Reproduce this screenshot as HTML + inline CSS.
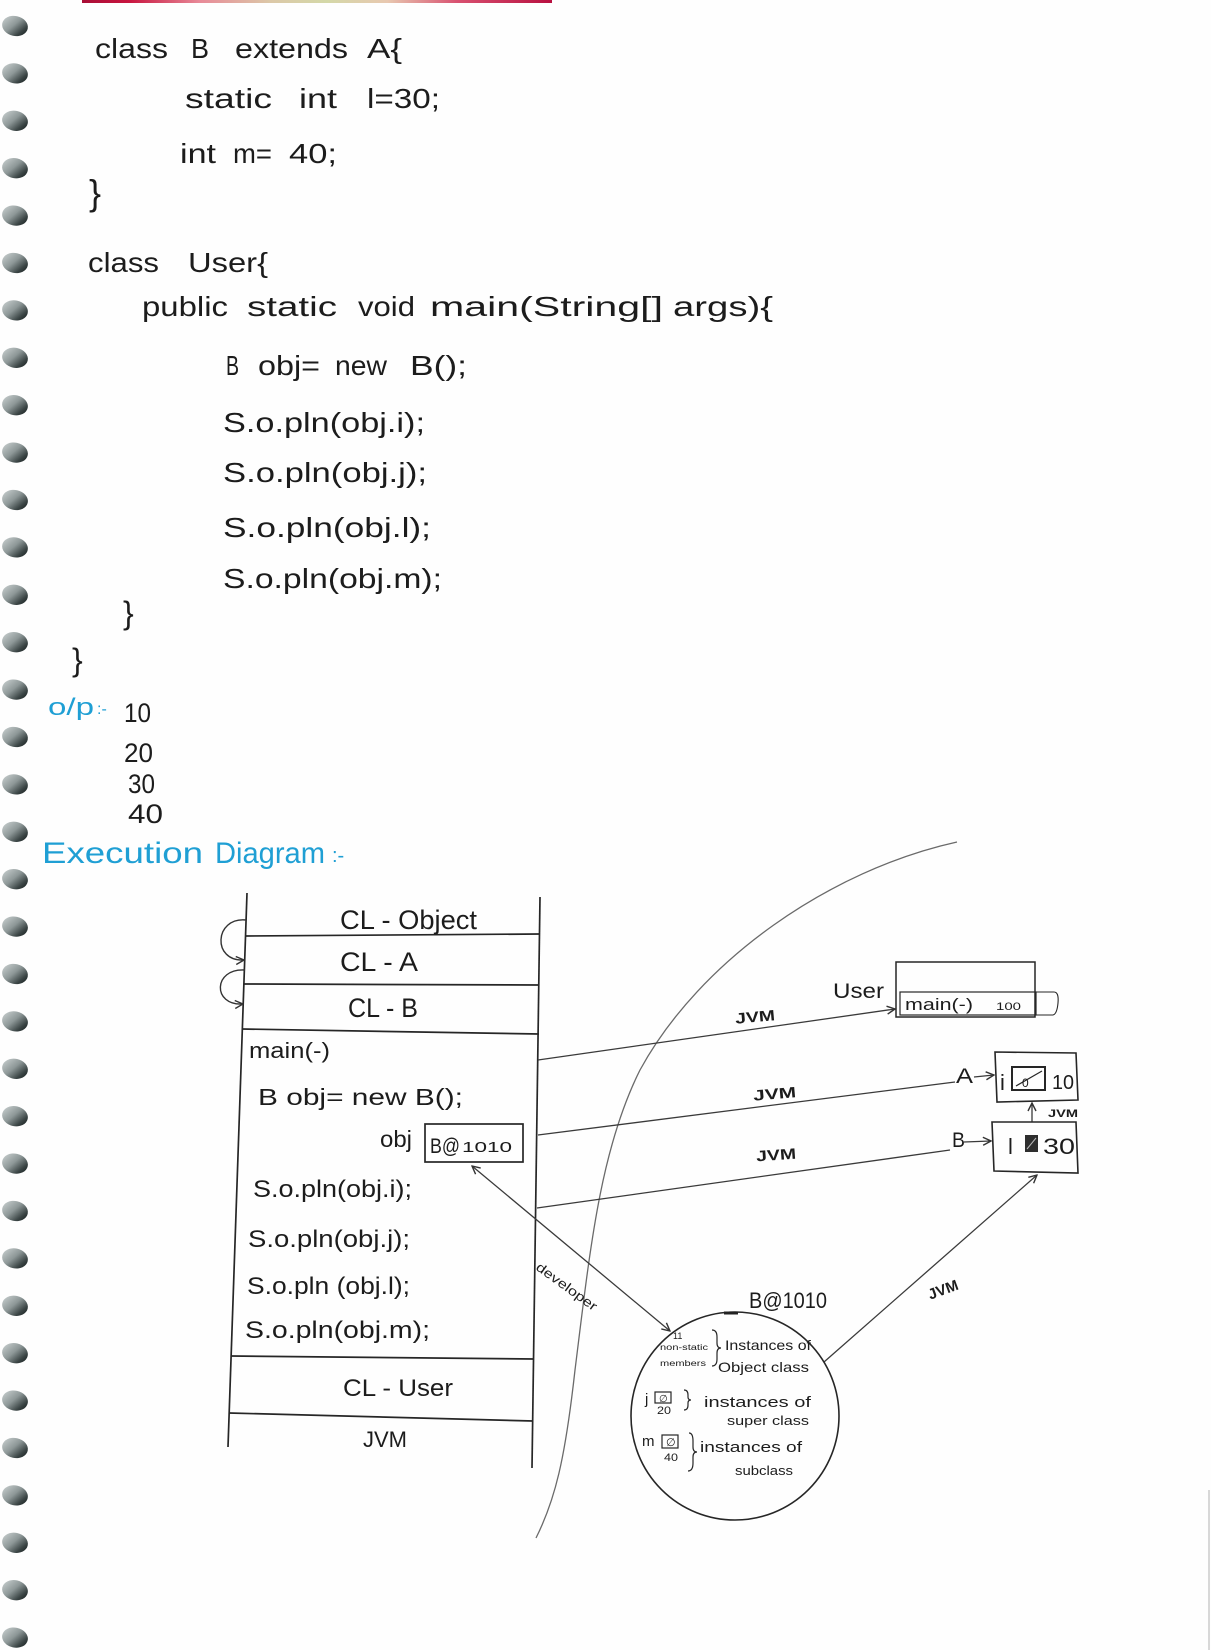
<!DOCTYPE html>
<html>
<head>
<meta charset="utf-8">
<style>
html,body{margin:0;padding:0;background:#fefefe;}
svg{display:block;}
text{font-family:"Liberation Sans",sans-serif;fill:#1c1c1c;}
.b{fill:#1f9fd4;}
</style>
</head>
<body>
<svg width="1211" height="1650" viewBox="0 0 1211 1650" xmlns="http://www.w3.org/2000/svg">
<defs>
  <linearGradient id="strip" x1="0" x2="1" y1="0" y2="0">
    <stop offset="0" stop-color="#a80e36"/>
    <stop offset="0.1" stop-color="#c8143f"/>
    <stop offset="0.25" stop-color="#e88a98"/>
    <stop offset="0.4" stop-color="#dcc8a8"/>
    <stop offset="0.52" stop-color="#d4d8a8"/>
    <stop offset="0.65" stop-color="#e8c8b0"/>
    <stop offset="0.8" stop-color="#d85070"/>
    <stop offset="1" stop-color="#b81040"/>
  </linearGradient>
  <linearGradient id="ring" x1="0" x2="1" y1="0.2" y2="0.8">
    <stop offset="0" stop-color="#c4cbcb"/>
    <stop offset="0.45" stop-color="#8d9797"/>
    <stop offset="0.8" stop-color="#3a4444"/>
    <stop offset="1" stop-color="#1e2626"/>
  </linearGradient>
  <marker id="ah" viewBox="0 0 10 10" refX="9" refY="5" markerWidth="10" markerHeight="10" markerUnits="userSpaceOnUse" orient="auto-start-reverse">
    <path d="M1,1 L9,5 L1,9" fill="none" stroke="#333" stroke-width="1.4"/>
  </marker>
</defs>

<!-- top strip -->
<rect x="82" y="0" width="470" height="3" fill="url(#strip)"/>

<!-- spiral rings -->
<g id="rings">
  <ellipse cx="15" cy="26" rx="13" ry="10" fill="url(#ring)" transform="rotate(12 15 26)"/>
  <ellipse cx="15" cy="73.4" rx="13" ry="10" fill="url(#ring)" transform="rotate(12 15 73.4)"/>
  <ellipse cx="15" cy="120.8" rx="13" ry="10" fill="url(#ring)" transform="rotate(12 15 120.8)"/>
  <ellipse cx="15" cy="168.2" rx="13" ry="10" fill="url(#ring)" transform="rotate(12 15 168.2)"/>
  <ellipse cx="15" cy="215.6" rx="13" ry="10" fill="url(#ring)" transform="rotate(12 15 215.6)"/>
  <ellipse cx="15" cy="263" rx="13" ry="10" fill="url(#ring)" transform="rotate(12 15 263)"/>
  <ellipse cx="15" cy="310.4" rx="13" ry="10" fill="url(#ring)" transform="rotate(12 15 310.4)"/>
  <ellipse cx="15" cy="357.8" rx="13" ry="10" fill="url(#ring)" transform="rotate(12 15 357.8)"/>
  <ellipse cx="15" cy="405.2" rx="13" ry="10" fill="url(#ring)" transform="rotate(12 15 405.2)"/>
  <ellipse cx="15" cy="452.6" rx="13" ry="10" fill="url(#ring)" transform="rotate(12 15 452.6)"/>
  <ellipse cx="15" cy="500" rx="13" ry="10" fill="url(#ring)" transform="rotate(12 15 500)"/>
  <ellipse cx="15" cy="547.4" rx="13" ry="10" fill="url(#ring)" transform="rotate(12 15 547.4)"/>
  <ellipse cx="15" cy="594.8" rx="13" ry="10" fill="url(#ring)" transform="rotate(12 15 594.8)"/>
  <ellipse cx="15" cy="642.2" rx="13" ry="10" fill="url(#ring)" transform="rotate(12 15 642.2)"/>
  <ellipse cx="15" cy="689.6" rx="13" ry="10" fill="url(#ring)" transform="rotate(12 15 689.6)"/>
  <ellipse cx="15" cy="737" rx="13" ry="10" fill="url(#ring)" transform="rotate(12 15 737)"/>
  <ellipse cx="15" cy="784.4" rx="13" ry="10" fill="url(#ring)" transform="rotate(12 15 784.4)"/>
  <ellipse cx="15" cy="831.8" rx="13" ry="10" fill="url(#ring)" transform="rotate(12 15 831.8)"/>
  <ellipse cx="15" cy="879.2" rx="13" ry="10" fill="url(#ring)" transform="rotate(12 15 879.2)"/>
  <ellipse cx="15" cy="926.6" rx="13" ry="10" fill="url(#ring)" transform="rotate(12 15 926.6)"/>
  <ellipse cx="15" cy="974" rx="13" ry="10" fill="url(#ring)" transform="rotate(12 15 974)"/>
  <ellipse cx="15" cy="1021.4" rx="13" ry="10" fill="url(#ring)" transform="rotate(12 15 1021.4)"/>
  <ellipse cx="15" cy="1068.8" rx="13" ry="10" fill="url(#ring)" transform="rotate(12 15 1068.8)"/>
  <ellipse cx="15" cy="1116.2" rx="13" ry="10" fill="url(#ring)" transform="rotate(12 15 1116.2)"/>
  <ellipse cx="15" cy="1163.6" rx="13" ry="10" fill="url(#ring)" transform="rotate(12 15 1163.6)"/>
  <ellipse cx="15" cy="1211" rx="13" ry="10" fill="url(#ring)" transform="rotate(12 15 1211)"/>
  <ellipse cx="15" cy="1258.4" rx="13" ry="10" fill="url(#ring)" transform="rotate(12 15 1258.4)"/>
  <ellipse cx="15" cy="1305.8" rx="13" ry="10" fill="url(#ring)" transform="rotate(12 15 1305.8)"/>
  <ellipse cx="15" cy="1353.2" rx="13" ry="10" fill="url(#ring)" transform="rotate(12 15 1353.2)"/>
  <ellipse cx="15" cy="1400.6" rx="13" ry="10" fill="url(#ring)" transform="rotate(12 15 1400.6)"/>
  <ellipse cx="15" cy="1448" rx="13" ry="10" fill="url(#ring)" transform="rotate(12 15 1448)"/>
  <ellipse cx="15" cy="1495.4" rx="13" ry="10" fill="url(#ring)" transform="rotate(12 15 1495.4)"/>
  <ellipse cx="15" cy="1542.8" rx="13" ry="10" fill="url(#ring)" transform="rotate(12 15 1542.8)"/>
  <ellipse cx="15" cy="1590.2" rx="13" ry="10" fill="url(#ring)" transform="rotate(12 15 1590.2)"/>
  <ellipse cx="15" cy="1637.6" rx="13" ry="10" fill="url(#ring)" transform="rotate(12 15 1637.6)"/>
</g>

<!-- right page edge shade -->
<line x1="1209" y1="1490" x2="1209" y2="1650" stroke="#d8d8d8" stroke-width="2"/>

<!-- ===== CODE ===== -->
<g font-size="28">
  <text x="95" y="58" textLength="73" lengthAdjust="spacingAndGlyphs">class</text>
  <text x="191" y="58" textLength="18" lengthAdjust="spacingAndGlyphs">B</text>
  <text x="235" y="58" textLength="113" lengthAdjust="spacingAndGlyphs">extends</text>
  <text x="367" y="58" textLength="35" lengthAdjust="spacingAndGlyphs">A{</text>

  <text x="185" y="108" textLength="87" lengthAdjust="spacingAndGlyphs">static</text>
  <text x="299" y="108" textLength="38" lengthAdjust="spacingAndGlyphs">int</text>
  <text x="367" y="108" textLength="73" lengthAdjust="spacingAndGlyphs">l=30;</text>

  <text x="180" y="163" textLength="36" lengthAdjust="spacingAndGlyphs">int</text>
  <text x="233" y="163" textLength="39" lengthAdjust="spacingAndGlyphs">m=</text>
  <text x="289" y="163" textLength="48" lengthAdjust="spacingAndGlyphs">40;</text>

  <text x="89" y="205" font-size="36">}</text>

  <text x="88" y="272" textLength="71" lengthAdjust="spacingAndGlyphs">class</text>
  <text x="188" y="272" textLength="80" lengthAdjust="spacingAndGlyphs">User{</text>

  <text x="142" y="316" textLength="86" lengthAdjust="spacingAndGlyphs">public</text>
  <text x="247" y="316" textLength="90" lengthAdjust="spacingAndGlyphs">static</text>
  <text x="358" y="316" textLength="57" lengthAdjust="spacingAndGlyphs">void</text>
  <text x="430" y="316" textLength="233" lengthAdjust="spacingAndGlyphs">main(String[]</text>
  <text x="673" y="316" textLength="100" lengthAdjust="spacingAndGlyphs">args){</text>

  <text x="226" y="375" textLength="13" lengthAdjust="spacingAndGlyphs">B</text>
  <text x="258" y="375" textLength="62" lengthAdjust="spacingAndGlyphs">obj=</text>
  <text x="335" y="375" textLength="52" lengthAdjust="spacingAndGlyphs">new</text>
  <text x="410" y="375" textLength="57" lengthAdjust="spacingAndGlyphs">B();</text>

  <text x="223" y="432" textLength="202" lengthAdjust="spacingAndGlyphs">S.o.pln(obj.i);</text>
  <text x="223" y="482" textLength="204" lengthAdjust="spacingAndGlyphs">S.o.pln(obj.j);</text>
  <text x="223" y="537" textLength="208" lengthAdjust="spacingAndGlyphs">S.o.pln(obj.l);</text>
  <text x="223" y="588" textLength="219" lengthAdjust="spacingAndGlyphs">S.o.pln(obj.m);</text>

  <text x="123" y="624" font-size="32">}</text>
  <text x="72" y="671" font-size="32">}</text>
</g>

<!-- output -->
<text class="b" x="48" y="715" font-size="24" textLength="46" lengthAdjust="spacingAndGlyphs">o/p</text>
<text class="b" x="97" y="714" font-size="16">:-</text>
<g font-size="27">
  <text x="124" y="722" textLength="27" lengthAdjust="spacingAndGlyphs">10</text>
  <text x="124" y="762" textLength="29" lengthAdjust="spacingAndGlyphs">20</text>
  <text x="128" y="793" textLength="27" lengthAdjust="spacingAndGlyphs">30</text>
  <text x="128" y="823" textLength="35" lengthAdjust="spacingAndGlyphs">40</text>
</g>
<text class="b" x="42" y="863" font-size="30" textLength="161" lengthAdjust="spacingAndGlyphs">Execution</text>
<text class="b" x="215" y="863" font-size="30" textLength="110" lengthAdjust="spacingAndGlyphs">Diagram</text>
<text class="b" x="332" y="862" font-size="20">:-</text>

<!-- ===== DIAGRAM ===== -->
<path d="M957,842 C830,870 700,960 640,1070 C600,1150 590,1250 575,1370 C565,1460 555,1500 536,1538" fill="none" stroke="#6a6a6a" stroke-width="1.3"/>

<g stroke="#262626" stroke-width="1.7" fill="none">
  <line x1="247" y1="893" x2="228" y2="1447"/>
  <line x1="540" y1="897" x2="532" y2="1468"/>
  <line x1="245" y1="936" x2="540" y2="934"/>
  <line x1="244" y1="984" x2="539" y2="985"/>
  <line x1="242" y1="1029" x2="539" y2="1034"/>
  <line x1="231" y1="1356" x2="534" y2="1359"/>
  <line x1="229" y1="1413" x2="533" y2="1421"/>
  <rect x="425" y="1124" width="98" height="38"/>
</g>
<path d="M246,920 C214,917 212,962 244,960" fill="none" stroke="#333" stroke-width="1.4" marker-end="url(#ah)"/>
<path d="M245,970 C213,968 212,1006 243,1004" fill="none" stroke="#333" stroke-width="1.4" marker-end="url(#ah)"/>

<g>
  <text x="340" y="929" font-size="27" textLength="137" lengthAdjust="spacingAndGlyphs">CL - Object</text>
  <text x="340" y="971" font-size="27" textLength="78" lengthAdjust="spacingAndGlyphs">CL - A</text>
  <text x="348" y="1017" font-size="27" textLength="70" lengthAdjust="spacingAndGlyphs">CL - B</text>
  <text x="249" y="1058" font-size="22" textLength="81" lengthAdjust="spacingAndGlyphs">main(-)</text>
  <text x="258" y="1105" font-size="23" textLength="205" lengthAdjust="spacingAndGlyphs">B obj= new B();</text>
  <text x="380" y="1147" font-size="23" textLength="32" lengthAdjust="spacingAndGlyphs">obj</text>
  <text x="430" y="1153" font-size="21" textLength="30" lengthAdjust="spacingAndGlyphs">B@</text>
  <text x="462" y="1152" font-size="15" textLength="50" lengthAdjust="spacingAndGlyphs">1010</text>
  <text x="253" y="1197" font-size="24" textLength="159" lengthAdjust="spacingAndGlyphs">S.o.pln(obj.i);</text>
  <text x="248" y="1247" font-size="24" textLength="162" lengthAdjust="spacingAndGlyphs">S.o.pln(obj.j);</text>
  <text x="247" y="1294" font-size="24" textLength="163" lengthAdjust="spacingAndGlyphs">S.o.pln (obj.l);</text>
  <text x="245" y="1338" font-size="24" textLength="185" lengthAdjust="spacingAndGlyphs">S.o.pln(obj.m);</text>
  <text x="343" y="1396" font-size="24" textLength="110" lengthAdjust="spacingAndGlyphs">CL - User</text>
  <text x="363" y="1447" font-size="22" textLength="44" lengthAdjust="spacingAndGlyphs">JVM</text>
</g>

<g stroke="#3a3a3a" stroke-width="1.3" fill="none">
  <line x1="538" y1="1060" x2="895" y2="1009" marker-end="url(#ah)"/>
  <line x1="538" y1="1135" x2="955" y2="1082"/>
  <line x1="974" y1="1077" x2="994" y2="1075" marker-end="url(#ah)"/>
  <line x1="537" y1="1208" x2="950" y2="1150"/>
  <line x1="964" y1="1142" x2="991" y2="1141" marker-end="url(#ah)"/>
  <line x1="472" y1="1166" x2="670" y2="1331" marker-start="url(#ah)" marker-end="url(#ah)"/>
  <line x1="824" y1="1362" x2="1037" y2="1175" marker-end="url(#ah)"/>
  <line x1="1032" y1="1122" x2="1032" y2="1103" marker-end="url(#ah)"/>
</g>

<g font-size="15" font-weight="bold">
  <text x="735" y="1022" textLength="40" lengthAdjust="spacingAndGlyphs" transform="rotate(-5 755 1016)">JVM</text>
  <text x="753" y="1099" textLength="43" lengthAdjust="spacingAndGlyphs" transform="rotate(-5 774 1093)">JVM</text>
  <text x="756" y="1160" textLength="40" lengthAdjust="spacingAndGlyphs" transform="rotate(-4 776 1154)">JVM</text>
  <text x="927" y="1295" textLength="31" lengthAdjust="spacingAndGlyphs" transform="rotate(-20 942 1288)">JVM</text>
  <text x="1048" y="1117" font-size="11" textLength="30" lengthAdjust="spacingAndGlyphs">JVM</text>
</g>
<text x="538" y="1270" font-size="13" textLength="72" lengthAdjust="spacingAndGlyphs" transform="rotate(36 538 1265)">developer</text>

<text x="833" y="998" font-size="21" textLength="51" lengthAdjust="spacingAndGlyphs">User</text>
<g stroke="#262626" stroke-width="1.5" fill="none">
  <rect x="896" y="962" width="139" height="55"/>
  <rect x="900" y="992" width="136" height="23" stroke-width="1.2"/>
  <path d="M1036,992 H1054 Q1059,992 1058,1003 Q1057,1014 1053,1015 H1036" stroke-width="1.1"/>
</g>
<text x="905" y="1010" font-size="17" textLength="68" lengthAdjust="spacingAndGlyphs">main(-)</text>
<text x="996" y="1010" font-size="11" textLength="25" lengthAdjust="spacingAndGlyphs">100</text>

<text x="956" y="1083" font-size="21" textLength="17" lengthAdjust="spacingAndGlyphs">A</text>
<g stroke="#262626" stroke-width="1.6" fill="none">
  <path d="M995,1052 L1076,1053 L1078,1100 L997,1102 Z"/>
  <rect x="1012" y="1067" width="33" height="23" stroke-width="2"/>
  <line x1="1016" y1="1086" x2="1042" y2="1071" stroke-width="1.2"/>
</g>
<text x="1022" y="1087" font-size="12">0</text>
<text x="1000" y="1090" font-size="22">i</text>
<text x="1052" y="1089" font-size="20" textLength="22" lengthAdjust="spacingAndGlyphs">10</text>

<text x="952" y="1147" font-size="21" textLength="13" lengthAdjust="spacingAndGlyphs">B</text>
<g stroke="#262626" stroke-width="1.6" fill="none">
  <path d="M992,1122 L1076,1122 L1078,1173 L994,1171 Z"/>
</g>
<rect x="1025" y="1135" width="13" height="17" fill="#2e2e2e"/>
<line x1="1027" y1="1149" x2="1036" y2="1138" stroke="#bbb" stroke-width="1"/>
<text x="1008" y="1154" font-size="22">l</text>
<text x="1043" y="1154" font-size="22" textLength="32" lengthAdjust="spacingAndGlyphs">30</text>

<text x="749" y="1308" font-size="22" textLength="78" lengthAdjust="spacingAndGlyphs">B@1010</text>
<circle cx="735" cy="1416" r="104" fill="none" stroke="#262626" stroke-width="1.6"/>
<line x1="724" y1="1313" x2="738" y2="1313" stroke="#222" stroke-width="3"/>

<g font-size="9">
  <text x="673" y="1339" font-size="9">11</text>
  <text x="660" y="1350" font-size="8" textLength="48" lengthAdjust="spacingAndGlyphs">non-static</text>
  <text x="660" y="1366" font-size="8" textLength="46" lengthAdjust="spacingAndGlyphs">members</text>
</g>
<g stroke="#262626" stroke-width="1.2" fill="none">
  <path d="M712,1330 q5,0 5,7 v6 q0,5 4,5 q-4,0 -4,5 v6 q0,7 -5,7"/>
  <path d="M684,1390 q4,0 4,5 v2 q0,3 3,3 q-3,0 -3,3 v2 q0,5 -4,5"/>
  <path d="M689,1433 q4,0 4,8 v6 q0,5 4,5 q-4,0 -4,5 v6 q0,8 -5,8"/>
  <rect x="655" y="1392" width="16" height="11"/>
  <rect x="662" y="1435" width="16" height="13"/>
</g>
<text x="659" y="1402" font-size="10">∅</text>
<text x="666" y="1446" font-size="11">∅</text>
<text x="725" y="1350" font-size="14" textLength="86" lengthAdjust="spacingAndGlyphs">Instances of</text>
<text x="718" y="1372" font-size="14" textLength="91" lengthAdjust="spacingAndGlyphs">Object class</text>
<text x="645" y="1404" font-size="15">j</text>
<text x="657" y="1414" font-size="11" textLength="14" lengthAdjust="spacingAndGlyphs">20</text>
<text x="704" y="1407" font-size="15" textLength="107" lengthAdjust="spacingAndGlyphs">instances of</text>
<text x="727" y="1425" font-size="13" textLength="82" lengthAdjust="spacingAndGlyphs">super class</text>
<text x="642" y="1446" font-size="15">m</text>
<text x="664" y="1461" font-size="11" textLength="14" lengthAdjust="spacingAndGlyphs">40</text>
<text x="700" y="1452" font-size="15" textLength="102" lengthAdjust="spacingAndGlyphs">instances of</text>
<text x="735" y="1475" font-size="13" textLength="58" lengthAdjust="spacingAndGlyphs">subclass</text>
</svg>
</body>
</html>
